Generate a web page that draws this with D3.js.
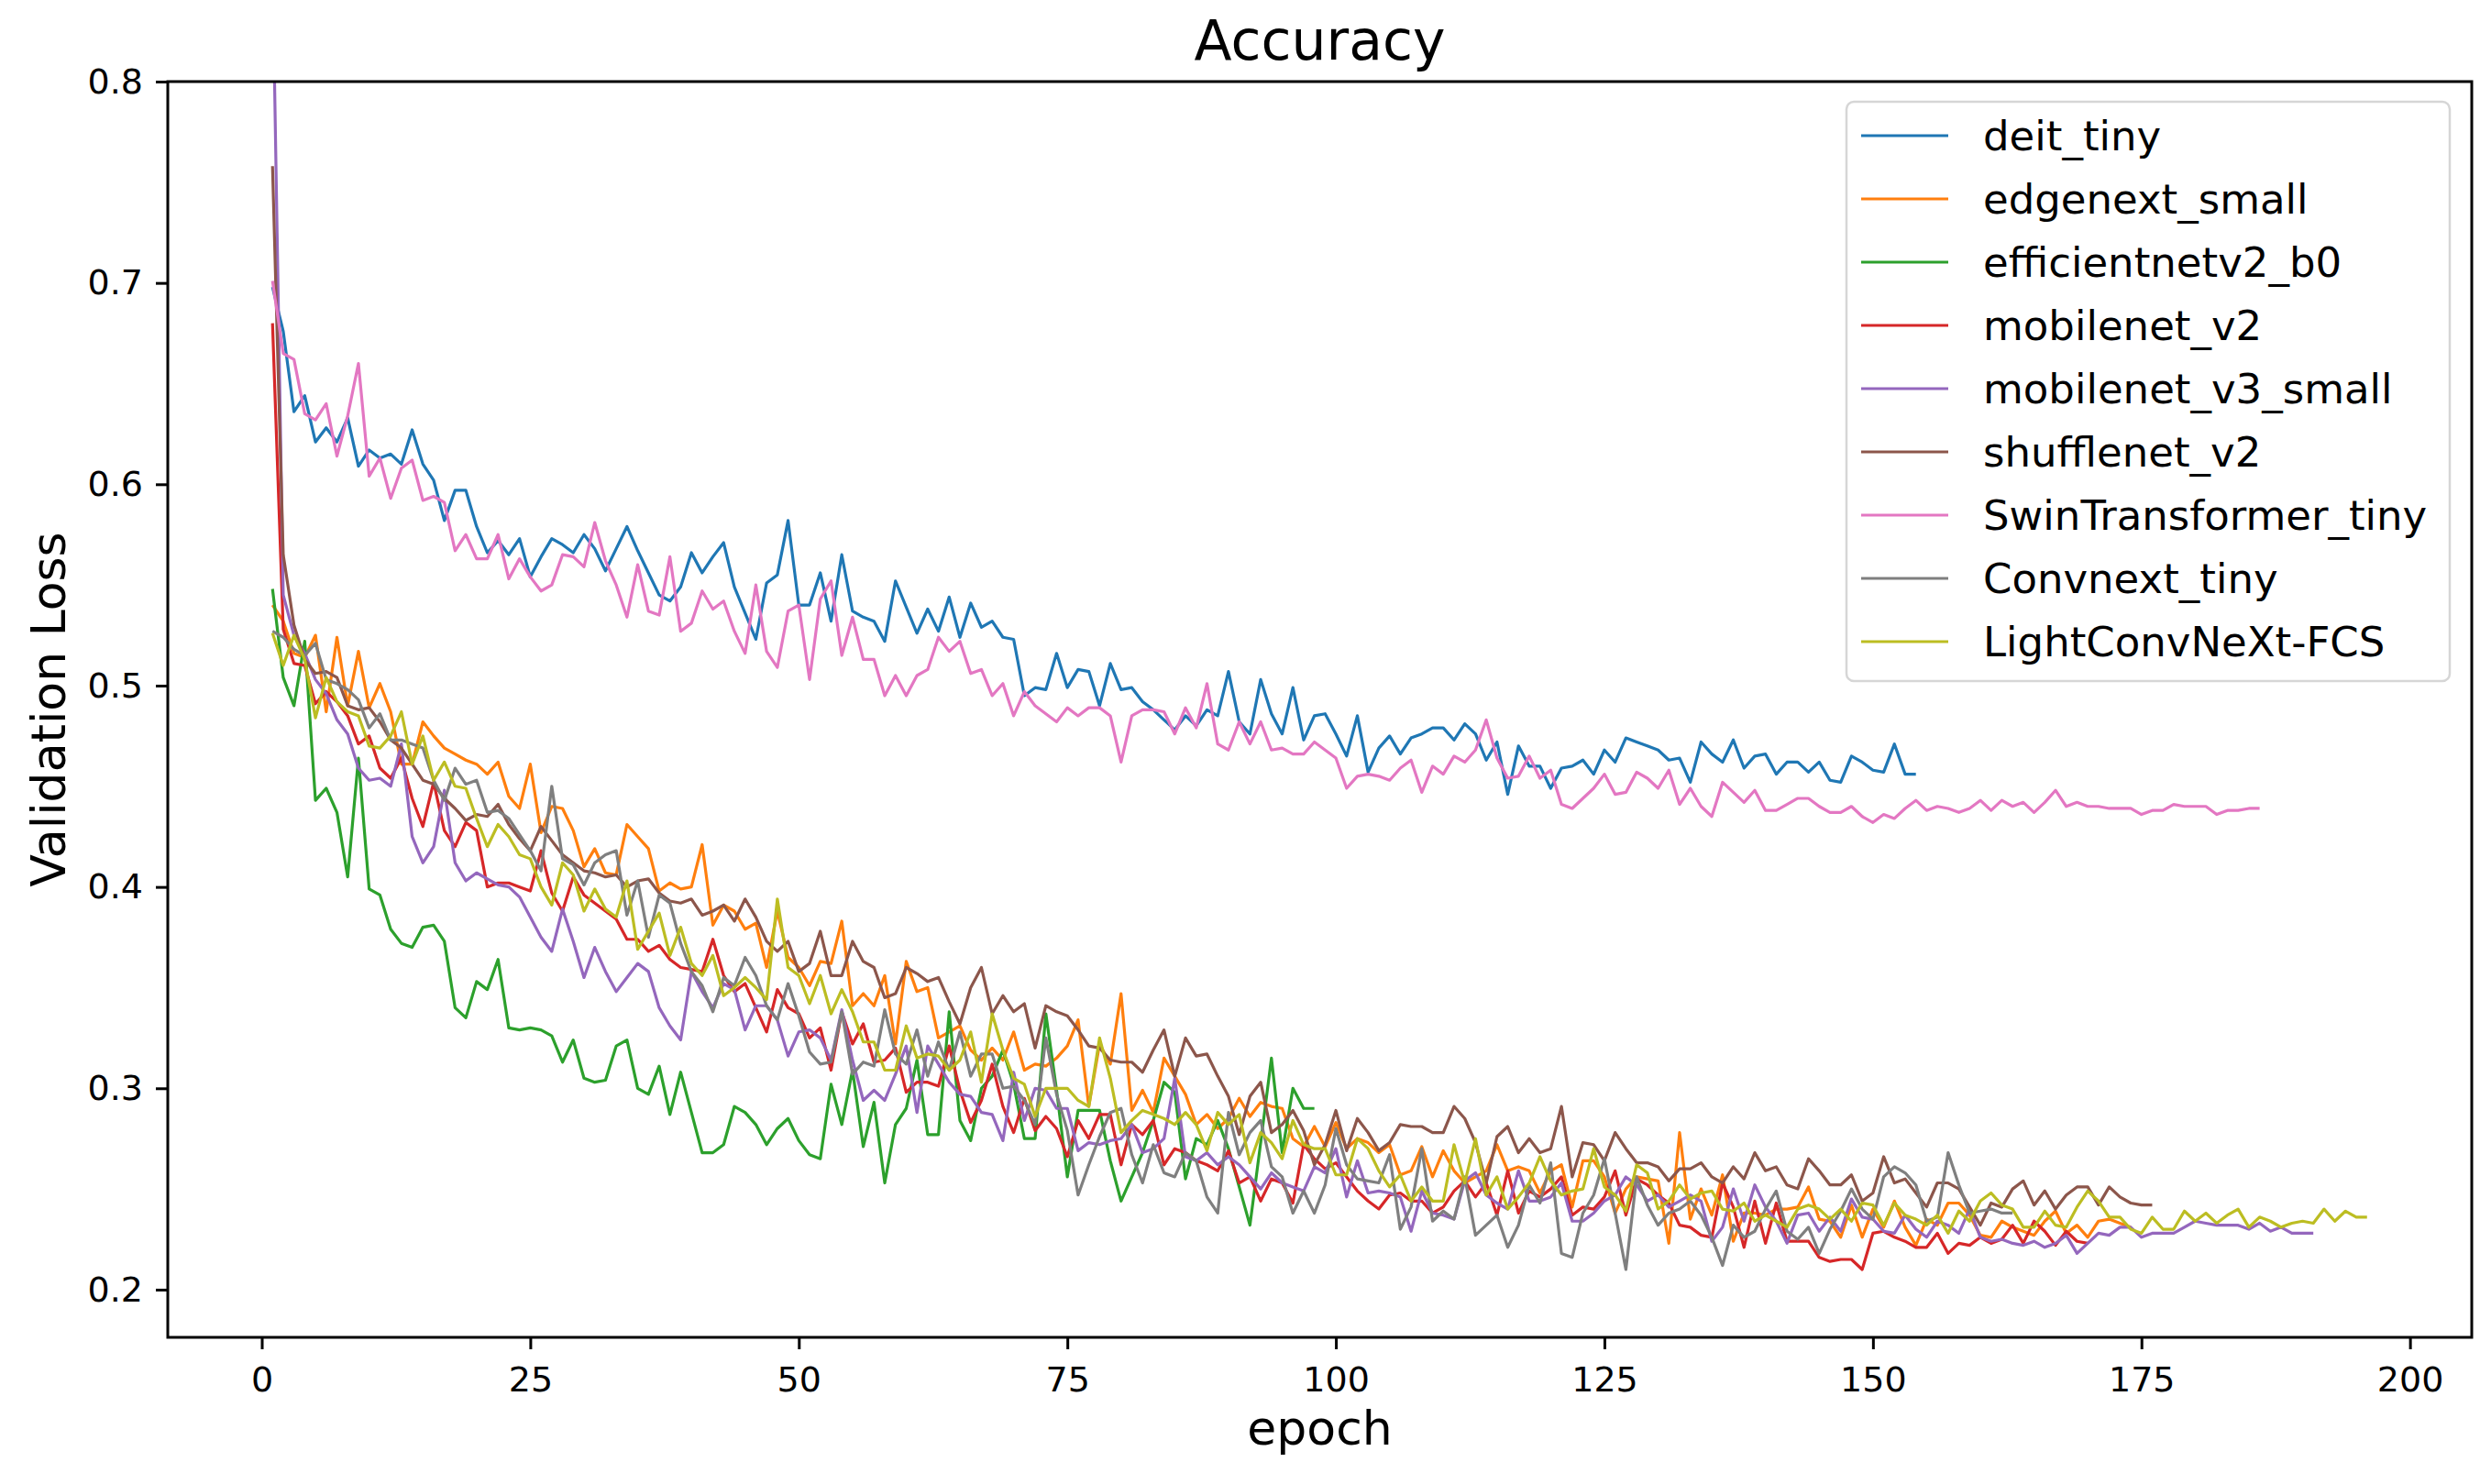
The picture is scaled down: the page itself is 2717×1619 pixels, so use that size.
<!DOCTYPE html>
<html>
<head>
<meta charset="utf-8">
<script src="https://cdn.jsdelivr.net/npm/d3@7"></script>
<style>
  body { margin: 0; background: #fff; }
  text { font-family: "DejaVu Sans", sans-serif; }
</style>
</head>
<body>
<div id="chart"></div>
<script>
// validation loss per epoch, index 0 = epoch 1
const deitTiny = [
  0.698, 0.676, 0.636, 0.644, 0.621, 0.628, 0.621, 0.633, 0.609, 0.617,
  0.613, 0.615, 0.610, 0.627, 0.610, 0.602, 0.582, 0.597, 0.597, 0.579,
  0.566, 0.572, 0.565, 0.573, 0.554, 0.564, 0.573, 0.570, 0.566, 0.575,
  0.568, 0.557, 0.568, 0.579, 0.567, 0.556, 0.545, 0.542, 0.549, 0.566,
  0.556, 0.564, 0.571, 0.549, 0.536, 0.523, 0.551, 0.555, 0.582, 0.540,
  0.540, 0.556, 0.532, 0.565, 0.537, 0.534, 0.532, 0.522, 0.552, 0.539,
  0.526, 0.538, 0.527, 0.544, 0.524, 0.541, 0.529, 0.532, 0.524, 0.523,
  0.495, 0.499, 0.498, 0.516, 0.499, 0.508, 0.507, 0.490, 0.511, 0.498,
  0.499, 0.492, 0.488, 0.483, 0.478, 0.485, 0.480, 0.488, 0.485, 0.507,
  0.482, 0.476, 0.503, 0.486, 0.476, 0.499, 0.473, 0.485, 0.486, 0.476,
  0.465, 0.485, 0.457, 0.469, 0.475, 0.466, 0.474, 0.476, 0.479, 0.479,
  0.473, 0.481, 0.476, 0.463, 0.472, 0.446, 0.470, 0.460, 0.460, 0.449,
  0.459, 0.460, 0.463, 0.456, 0.468, 0.462, 0.474, 0.472, 0.470, 0.468,
  0.463, 0.464, 0.452, 0.472, 0.466, 0.462, 0.473, 0.459, 0.465, 0.466,
  0.456, 0.462, 0.462, 0.457, 0.462, 0.453, 0.452, 0.465, 0.462, 0.458,
  0.457, 0.471, 0.456, 0.456
];

const edgenextSmall = [
  0.540, 0.532, 0.516, 0.514, 0.525, 0.487, 0.524, 0.490, 0.517, 0.489,
  0.501, 0.487, 0.461, 0.461, 0.482, 0.475, 0.469, 0.466, 0.463, 0.461,
  0.456, 0.462, 0.445, 0.439, 0.461, 0.427, 0.440, 0.439, 0.428, 0.410,
  0.419, 0.407, 0.406, 0.431, 0.425, 0.419, 0.398, 0.402, 0.399, 0.400,
  0.421, 0.381, 0.391, 0.388, 0.379, 0.382, 0.360, 0.388, 0.365, 0.360,
  0.351, 0.363, 0.362, 0.383, 0.341, 0.347, 0.341, 0.356, 0.322, 0.363,
  0.348, 0.350, 0.325, 0.328, 0.331, 0.319, 0.314, 0.320, 0.314, 0.328,
  0.309, 0.312, 0.311, 0.315, 0.321, 0.334, 0.291, 0.322, 0.312, 0.347,
  0.289, 0.299, 0.288, 0.315, 0.306, 0.297, 0.282, 0.287, 0.280, 0.285,
  0.295, 0.286, 0.293, 0.291, 0.290, 0.275, 0.271, 0.281, 0.271, 0.283,
  0.270, 0.275, 0.273, 0.268, 0.272, 0.257, 0.259, 0.271, 0.256, 0.269,
  0.259, 0.253, 0.256, 0.259, 0.272, 0.259, 0.261, 0.259, 0.248, 0.259,
  0.262, 0.241, 0.264, 0.264, 0.256, 0.238, 0.250, 0.256, 0.255, 0.254,
  0.223, 0.278, 0.235, 0.250, 0.237, 0.257, 0.224, 0.238, 0.238, 0.237,
  0.240, 0.240, 0.241, 0.251, 0.235, 0.234, 0.226, 0.242, 0.226, 0.240,
  0.231, 0.244, 0.231, 0.222, 0.235, 0.232, 0.243, 0.243, 0.237, 0.227,
  0.226, 0.234, 0.231, 0.229, 0.227, 0.234, 0.239, 0.228, 0.232, 0.226,
  0.234, 0.235, 0.233, 0.231
];

const efficientnetB0 = [
  0.548, 0.504, 0.490, 0.522, 0.443, 0.449, 0.437, 0.405, 0.464, 0.399,
  0.396, 0.379, 0.372, 0.370, 0.380, 0.381, 0.373, 0.340, 0.335, 0.353,
  0.349, 0.364, 0.330, 0.329, 0.330, 0.329, 0.326, 0.313, 0.324, 0.305,
  0.303, 0.304, 0.321, 0.324, 0.300, 0.297, 0.311, 0.287, 0.308, 0.288,
  0.268, 0.268, 0.272, 0.291, 0.288, 0.282, 0.272, 0.280, 0.285, 0.274,
  0.267, 0.265, 0.302, 0.282, 0.309, 0.271, 0.293, 0.253, 0.282, 0.290,
  0.314, 0.277, 0.277, 0.338, 0.284, 0.274, 0.300, 0.306, 0.319, 0.302,
  0.275, 0.275, 0.337, 0.299, 0.256, 0.289, 0.289, 0.289, 0.264, 0.244,
  0.256, 0.268, 0.284, 0.303, 0.298, 0.255, 0.275, 0.272, 0.284, 0.270,
  0.251, 0.232, 0.273, 0.315, 0.268, 0.300, 0.290, 0.290
];

const mobilenetV2 = [
  0.680, 0.528, 0.511, 0.510, 0.491, 0.497, 0.492, 0.485, 0.471, 0.475,
  0.459, 0.454, 0.464, 0.444, 0.430, 0.452, 0.428, 0.420, 0.432, 0.428,
  0.400, 0.402, 0.402, 0.400, 0.398, 0.418, 0.397, 0.388, 0.405, 0.396,
  0.392, 0.388, 0.384, 0.374, 0.374, 0.368, 0.371, 0.364, 0.360, 0.359,
  0.358, 0.374, 0.356, 0.348, 0.352, 0.340, 0.328, 0.349, 0.340, 0.337,
  0.325, 0.330, 0.309, 0.338, 0.322, 0.332, 0.313, 0.314, 0.320, 0.298,
  0.303, 0.303, 0.301, 0.321, 0.299, 0.283, 0.294, 0.312, 0.291, 0.278,
  0.295, 0.279, 0.286, 0.280, 0.266, 0.284, 0.275, 0.287, 0.287, 0.262,
  0.282, 0.277, 0.284, 0.262, 0.270, 0.268, 0.264, 0.262, 0.259, 0.269,
  0.253, 0.256, 0.244, 0.255, 0.253, 0.243, 0.272, 0.265, 0.260, 0.263,
  0.256, 0.249, 0.244, 0.240, 0.247, 0.248, 0.244, 0.244, 0.238, 0.241,
  0.249, 0.254, 0.246, 0.253, 0.237, 0.259, 0.238, 0.249, 0.246, 0.250,
  0.256, 0.237, 0.241, 0.240, 0.246, 0.259, 0.237, 0.255, 0.252, 0.247,
  0.243, 0.232, 0.231, 0.227, 0.226, 0.253, 0.241, 0.221, 0.244, 0.223,
  0.243, 0.224, 0.224, 0.224, 0.216, 0.214, 0.215, 0.215, 0.210, 0.228,
  0.229, 0.226, 0.224, 0.221, 0.221, 0.228, 0.218, 0.223, 0.222, 0.226,
  0.223, 0.225, 0.232, 0.223, 0.234, 0.229, 0.222, 0.229, 0.224, 0.223
];

const mobilenetV3Small = [
  0.860, 0.545, 0.525, 0.516, 0.503, 0.496, 0.483, 0.476, 0.459, 0.453,
  0.454, 0.450, 0.471, 0.425, 0.412, 0.420, 0.448, 0.412, 0.403, 0.407,
  0.404, 0.401, 0.400, 0.395, 0.385, 0.375, 0.368, 0.389, 0.373, 0.355,
  0.370, 0.358, 0.348, 0.355, 0.362, 0.358, 0.340, 0.331, 0.324, 0.358,
  0.348, 0.340, 0.352, 0.349, 0.329, 0.341, 0.341, 0.334, 0.316, 0.328,
  0.329, 0.325, 0.314, 0.339, 0.314, 0.294, 0.299, 0.294, 0.307, 0.321,
  0.288, 0.321, 0.312, 0.303, 0.297, 0.296, 0.288, 0.287, 0.274, 0.308,
  0.284, 0.300, 0.299, 0.290, 0.290, 0.269, 0.273, 0.272, 0.274, 0.275,
  0.282, 0.268, 0.270, 0.275, 0.305, 0.266, 0.264, 0.268, 0.262, 0.266,
  0.262, 0.256, 0.250, 0.258, 0.253, 0.251, 0.249, 0.261, 0.258, 0.270,
  0.246, 0.264, 0.248, 0.249, 0.248, 0.246, 0.229, 0.249, 0.238, 0.237,
  0.235, 0.254, 0.258, 0.247, 0.243, 0.240, 0.259, 0.244, 0.244, 0.246,
  0.253, 0.234, 0.234, 0.238, 0.244, 0.247, 0.256, 0.252, 0.244, 0.247,
  0.241, 0.244, 0.247, 0.244, 0.224, 0.231, 0.250, 0.234, 0.252, 0.241,
  0.234, 0.223, 0.237, 0.238, 0.229, 0.236, 0.229, 0.245, 0.236, 0.235,
  0.229, 0.228, 0.237, 0.230, 0.226, 0.234, 0.232, 0.228, 0.240, 0.226,
  0.224, 0.225, 0.223, 0.222, 0.224, 0.221, 0.223, 0.227, 0.218, 0.223,
  0.228, 0.227, 0.231, 0.231, 0.226, 0.228, 0.228, 0.228, 0.231, 0.234,
  0.233, 0.232, 0.232, 0.232, 0.230, 0.233, 0.229, 0.231, 0.228, 0.228,
  0.228
];

const shufflenetV2 = [
  0.758, 0.565, 0.530, 0.513, 0.506, 0.507, 0.504, 0.490, 0.488, 0.489,
  0.482, 0.473, 0.469, 0.461, 0.453, 0.451, 0.444, 0.439, 0.433, 0.436,
  0.435, 0.441, 0.431, 0.424, 0.418, 0.430, 0.423, 0.416, 0.412, 0.408,
  0.407, 0.405, 0.406, 0.400, 0.403, 0.404, 0.397, 0.393, 0.392, 0.394,
  0.386, 0.388, 0.391, 0.383, 0.394, 0.385, 0.373, 0.368, 0.373, 0.358,
  0.362, 0.378, 0.356, 0.356, 0.373, 0.363, 0.360, 0.345, 0.347, 0.360,
  0.357, 0.353, 0.355, 0.343, 0.332, 0.350, 0.360, 0.337, 0.346, 0.338,
  0.342, 0.320, 0.341, 0.338, 0.336, 0.329, 0.321, 0.320, 0.314, 0.313,
  0.313, 0.308, 0.319, 0.329, 0.306, 0.325, 0.316, 0.317, 0.306, 0.296,
  0.277, 0.296, 0.303, 0.278, 0.282, 0.289, 0.279, 0.262, 0.272, 0.289,
  0.269, 0.285, 0.278, 0.269, 0.273, 0.282, 0.281, 0.281, 0.278, 0.278,
  0.291, 0.285, 0.273, 0.253, 0.276, 0.281, 0.268, 0.275, 0.268, 0.270,
  0.291, 0.256, 0.273, 0.272, 0.264, 0.278, 0.270, 0.263, 0.263, 0.261,
  0.254, 0.260, 0.260, 0.263, 0.256, 0.253, 0.261, 0.255, 0.268, 0.259,
  0.261, 0.252, 0.250, 0.265, 0.259, 0.252, 0.252, 0.257, 0.244, 0.248,
  0.266, 0.253, 0.255, 0.248, 0.241, 0.253, 0.253, 0.250, 0.241, 0.232,
  0.243, 0.241, 0.250, 0.254, 0.242, 0.249, 0.240, 0.247, 0.251, 0.251,
  0.242, 0.251, 0.246, 0.243, 0.242, 0.242
];

const swinTiny = [
  0.701, 0.665, 0.662, 0.635, 0.632, 0.640, 0.614, 0.634, 0.660, 0.604,
  0.613, 0.593, 0.608, 0.612, 0.592, 0.594, 0.591, 0.567, 0.575, 0.563,
  0.563, 0.575, 0.553, 0.563, 0.554, 0.547, 0.550, 0.565, 0.564, 0.559,
  0.581, 0.562, 0.550, 0.534, 0.560, 0.537, 0.535, 0.564, 0.527, 0.531,
  0.547, 0.538, 0.542, 0.527, 0.516, 0.550, 0.517, 0.509, 0.537, 0.540,
  0.503, 0.543, 0.552, 0.515, 0.534, 0.513, 0.513, 0.495, 0.505, 0.495,
  0.505, 0.508, 0.524, 0.517, 0.522, 0.506, 0.508, 0.495, 0.501, 0.485,
  0.497, 0.490, 0.486, 0.482, 0.489, 0.485, 0.489, 0.489, 0.485, 0.462,
  0.485, 0.488, 0.488, 0.487, 0.476, 0.489, 0.479, 0.501, 0.471, 0.468,
  0.482, 0.471, 0.482, 0.468, 0.469, 0.466, 0.466, 0.472, 0.468, 0.464,
  0.449, 0.455, 0.456, 0.455, 0.453, 0.459, 0.463, 0.447, 0.460, 0.456,
  0.465, 0.462, 0.468, 0.483, 0.464, 0.454, 0.455, 0.465, 0.454, 0.458,
  0.441, 0.439, 0.444, 0.449, 0.456, 0.446, 0.447, 0.457, 0.454, 0.449,
  0.458, 0.441, 0.449, 0.440, 0.435, 0.452, 0.447, 0.442, 0.448, 0.438,
  0.438, 0.441, 0.444, 0.444, 0.440, 0.437, 0.437, 0.440, 0.435, 0.432,
  0.436, 0.434, 0.439, 0.443, 0.438, 0.440, 0.439, 0.437, 0.439, 0.443,
  0.438, 0.443, 0.440, 0.442, 0.437, 0.442, 0.448, 0.440, 0.442, 0.440,
  0.440, 0.439, 0.439, 0.439, 0.436, 0.438, 0.438, 0.441, 0.440, 0.440,
  0.440, 0.436, 0.438, 0.438, 0.439, 0.439
];

const convnextTiny = [
  0.527, 0.524, 0.518, 0.515, 0.521, 0.503, 0.501, 0.498, 0.493, 0.479,
  0.486, 0.473, 0.473, 0.471, 0.469, 0.453, 0.443, 0.459, 0.451, 0.453,
  0.437, 0.438, 0.434, 0.426, 0.418, 0.408, 0.450, 0.414, 0.411, 0.401,
  0.412, 0.416, 0.418, 0.386, 0.403, 0.375, 0.396, 0.392, 0.372, 0.358,
  0.351, 0.338, 0.355, 0.351, 0.365, 0.356, 0.341, 0.334, 0.352, 0.336,
  0.318, 0.312, 0.313, 0.338, 0.307, 0.313, 0.311, 0.339, 0.317, 0.312,
  0.329, 0.306, 0.323, 0.309, 0.328, 0.306, 0.317, 0.317, 0.300, 0.301,
  0.294, 0.282, 0.325, 0.297, 0.279, 0.247, 0.262, 0.276, 0.288, 0.290,
  0.267, 0.253, 0.272, 0.258, 0.256, 0.268, 0.264, 0.246, 0.238, 0.288,
  0.267, 0.278, 0.284, 0.261, 0.256, 0.238, 0.249, 0.238, 0.252, 0.280,
  0.262, 0.255, 0.254, 0.253, 0.267, 0.230, 0.241, 0.270, 0.234, 0.239,
  0.235, 0.256, 0.227, 0.232, 0.237, 0.221, 0.232, 0.252, 0.243, 0.263,
  0.218, 0.216, 0.238, 0.247, 0.265, 0.238, 0.210, 0.256, 0.242, 0.232,
  0.238, 0.240, 0.244, 0.237, 0.226, 0.212, 0.232, 0.226, 0.229, 0.240,
  0.249, 0.229, 0.225, 0.231, 0.218, 0.230, 0.239, 0.250, 0.240, 0.235,
  0.256, 0.261, 0.258, 0.252, 0.234, 0.236, 0.268, 0.252, 0.238, 0.239,
  0.240, 0.238, 0.238
];

const lightConvNeXtFCS = [
  0.526, 0.510, 0.525, 0.513, 0.484, 0.504, 0.492, 0.487, 0.485, 0.470,
  0.469, 0.475, 0.487, 0.461, 0.475, 0.453, 0.462, 0.450, 0.449, 0.434,
  0.420, 0.431, 0.425, 0.416, 0.414, 0.400, 0.391, 0.412, 0.406, 0.388,
  0.399, 0.389, 0.385, 0.403, 0.369, 0.378, 0.387, 0.366, 0.380, 0.362,
  0.356, 0.366, 0.346, 0.350, 0.355, 0.350, 0.344, 0.394, 0.360, 0.356,
  0.342, 0.356, 0.337, 0.349, 0.338, 0.323, 0.323, 0.309, 0.309, 0.331,
  0.315, 0.317, 0.316, 0.309, 0.314, 0.328, 0.303, 0.337, 0.319, 0.305,
  0.302, 0.286, 0.300, 0.300, 0.300, 0.294, 0.291, 0.325, 0.305, 0.278,
  0.284, 0.289, 0.287, 0.285, 0.282, 0.288, 0.282, 0.269, 0.288, 0.282,
  0.287, 0.263, 0.278, 0.273, 0.265, 0.284, 0.272, 0.270, 0.270, 0.257,
  0.257, 0.275, 0.270, 0.259, 0.251, 0.257, 0.244, 0.251, 0.244, 0.244,
  0.272, 0.253, 0.275, 0.247, 0.256, 0.240, 0.246, 0.253, 0.266, 0.254,
  0.247, 0.249, 0.250, 0.270, 0.251, 0.247, 0.239, 0.262, 0.258, 0.240,
  0.244, 0.252, 0.245, 0.248, 0.249, 0.240, 0.239, 0.243, 0.234, 0.237,
  0.234, 0.231, 0.240, 0.242, 0.240, 0.235, 0.240, 0.234, 0.243, 0.242,
  0.232, 0.243, 0.237, 0.235, 0.232, 0.237, 0.228, 0.239, 0.234, 0.244,
  0.248, 0.242, 0.240, 0.231, 0.231, 0.239, 0.232, 0.231, 0.241, 0.249,
  0.244, 0.236, 0.236, 0.230, 0.228, 0.236, 0.230, 0.230, 0.239, 0.234,
  0.238, 0.233, 0.237, 0.240, 0.231, 0.236, 0.234, 0.231, 0.233, 0.234,
  0.233, 0.240, 0.234, 0.239, 0.236, 0.236
];

const modelNames = [
  "deit_tiny", "edgenext_small", "efficientnetv2_b0", "mobilenet_v2",
  "mobilenet_v3_small", "shufflenet_v2", "SwinTransformer_tiny",
  "Convnext_tiny", "LightConvNeXt-FCS"
];
const modelSeries = [
  deitTiny, edgenextSmall, efficientnetB0, mobilenetV2, mobilenetV3Small,
  shufflenetV2, swinTiny, convnextTiny, lightConvNeXtFCS
];
const lineColors = [
  "#1f77b4", "#ff7f0e", "#2ca02c", "#d62728", "#9467bd",
  "#8c564b", "#e377c2", "#7f7f7f", "#bcbd22"
];
const xTicks = [0, 25, 50, 75, 100, 125, 150, 175, 200];
const yTicks = [0.2, 0.3, 0.4, 0.5, 0.6, 0.7, 0.8];

class LossChart {
  constructor(parentElement) {
    this.parentElement = parentElement;
    this.displayData = modelNames.map((name, i) => ({
      name: name,
      color: lineColors[i],
      values: modelSeries[i].map((v, j) => ({ epoch: j + 1, loss: v }))
    }));
    this.initVis();
  }

  initVis() {
    let vis = this;
    vis.width = 2717;
    vis.height = 1619;
    vis.plot = { left: 183, right: 2696, top: 89, bottom: 1459 };

    vis.svg = d3
      .select("#" + vis.parentElement)
      .append("svg")
      .attr("width", vis.width)
      .attr("height", vis.height);

    // matplotlib-style 5% margins around epochs 1..196, top fixed at 0.8
    vis.x = d3.scaleLinear().domain([-8.75, 205.75]).range([vis.plot.left, vis.plot.right]);
    vis.y = d3.scaleLinear().domain([0.1763, 0.8]).range([vis.plot.bottom, vis.plot.top]);

    vis.svg
      .append("defs")
      .append("clipPath")
      .attr("id", "plot-clip")
      .append("rect")
      .attr("x", vis.plot.left)
      .attr("y", vis.plot.top)
      .attr("width", vis.plot.right - vis.plot.left)
      .attr("height", vis.plot.bottom - vis.plot.top);

    vis.xAxis = d3.axisBottom(vis.x).tickValues(xTicks).tickFormat(d3.format("d"))
      .tickSize(13).tickPadding(19).tickSizeOuter(0);
    vis.yAxis = d3.axisLeft(vis.y).tickValues(yTicks).tickFormat(d3.format(".1f"))
      .tickSize(13).tickPadding(14).tickSizeOuter(0);

    vis.svg.append("g")
      .attr("class", "x-axis")
      .attr("transform", `translate(0,${vis.plot.bottom})`)
      .call(vis.xAxis);
    vis.svg.append("g")
      .attr("class", "y-axis")
      .attr("transform", `translate(${vis.plot.left},0)`)
      .call(vis.yAxis);

    vis.svg.selectAll(".x-axis .domain, .y-axis .domain").remove();
    vis.svg.selectAll(".x-axis .tick line, .y-axis .tick line")
      .attr("stroke", "#000").attr("stroke-width", 3);
    vis.svg.selectAll(".x-axis text, .y-axis text")
      .attr("font-size", 38).attr("fill", "#000")
      .style("font-family", "DejaVu Sans");

    vis.lineGroup = vis.svg.append("g").attr("clip-path", "url(#plot-clip)");

    vis.svg.append("rect")
      .attr("x", vis.plot.left)
      .attr("y", vis.plot.top)
      .attr("width", vis.plot.right - vis.plot.left)
      .attr("height", vis.plot.bottom - vis.plot.top)
      .attr("fill", "none")
      .attr("stroke", "#000")
      .attr("stroke-width", 3);

    vis.svg.append("text")
      .attr("x", (vis.plot.left + vis.plot.right) / 2)
      .attr("y", 65)
      .attr("text-anchor", "middle")
      .attr("font-size", 60)
      .text("Accuracy");

    vis.svg.append("text")
      .attr("x", (vis.plot.left + vis.plot.right) / 2)
      .attr("y", 1576)
      .attr("text-anchor", "middle")
      .attr("font-size", 52)
      .text("epoch");

    vis.svg.append("text")
      .attr("transform", `translate(71,${(vis.plot.top + vis.plot.bottom) / 2}) rotate(-90)`)
      .attr("text-anchor", "middle")
      .attr("font-size", 52)
      .text("Validation Loss");

    vis.wrangleData();
  }

  wrangleData() {
    let vis = this;
    vis.updateVis();
  }

  updateVis() {
    let vis = this;

    let line = d3.line()
      .x((d) => vis.x(d.epoch))
      .y((d) => vis.y(d.loss));

    vis.lineGroup
      .selectAll("path")
      .data(vis.displayData)
      .enter()
      .append("path")
      .attr("fill", "none")
      .attr("stroke", (d) => d.color)
      .attr("stroke-width", 3.2)
      .attr("stroke-linejoin", "round")
      .attr("d", (d) => line(d.values));

    // legend, upper right
    let legend = vis.svg.append("g").attr("class", "legend");
    legend.append("rect")
      .attr("x", 2014)
      .attr("y", 111)
      .attr("width", 658)
      .attr("height", 632)
      .attr("rx", 8)
      .attr("fill", "#fff")
      .attr("fill-opacity", 0.8)
      .attr("stroke", "#d6d6d6")
      .attr("stroke-width", 2.5);

    let rows = legend.selectAll(".legend-row")
      .data(vis.displayData)
      .enter()
      .append("g")
      .attr("class", "legend-row")
      .attr("transform", (d, i) => `translate(0,${148 + i * 69})`);

    rows.append("line")
      .attr("x1", 2030)
      .attr("x2", 2125)
      .attr("stroke", (d) => d.color)
      .attr("stroke-width", 3.2);

    rows.append("text")
      .attr("x", 2163)
      .attr("y", 16)
      .attr("font-size", 45)
      .text((d) => d.name);
  }
}

new LossChart("chart");
</script>
</body>
</html>
